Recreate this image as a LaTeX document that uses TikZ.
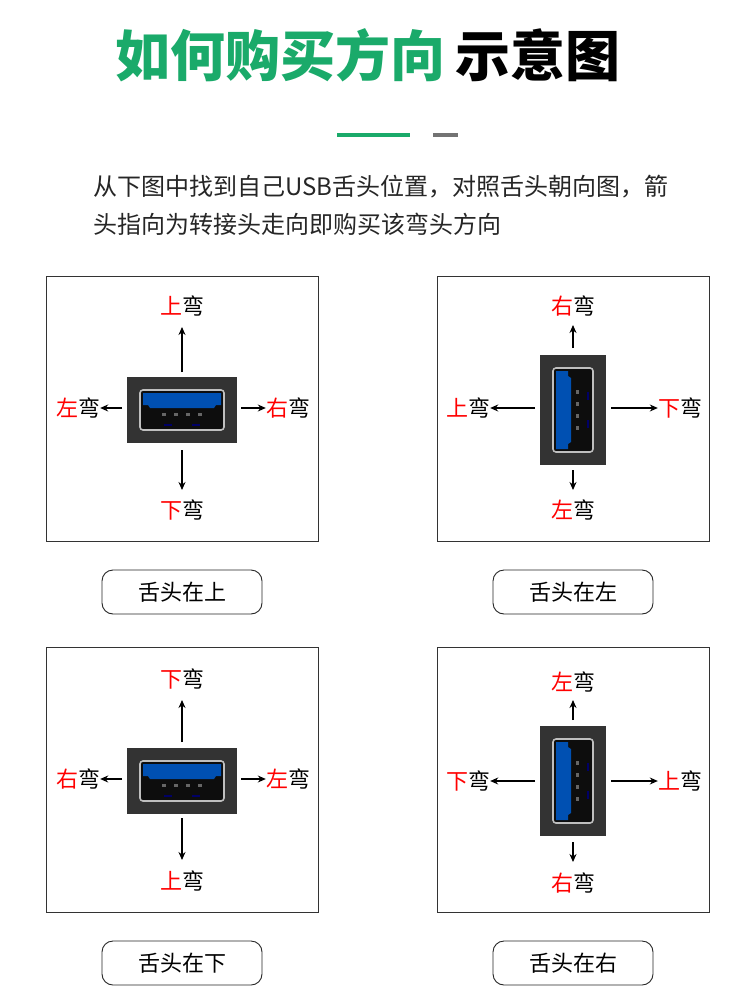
\documentclass[tikz,border=0pt]{standalone}
\usepackage{fontspec}
\setmainfont{Noto Sans CJK SC}
\usetikzlibrary{arrows.meta}
\begin{document}
\begin{tikzpicture}[x=1pt,y=-1pt,
  box/.style={draw=black!80,line width=0.8pt},
  btn/.style={draw=black!85,line width=0.9pt,rounded corners=11pt},
  lab/.style={font=\fontsize{22}{24}\selectfont,inner sep=0pt},
  arr/.style={-{Stealth[length=8pt,width=7pt]},line width=1.2pt},
  pics/usb/.style={code={
    \fill[black!80] (-55,-33) rectangle (55,33);
    \draw[fill=black!95,draw=black!25,line width=1.6pt,rounded corners=3pt] (-42,-20) rectangle (42,20);
    \fill[blue!55!cyan!70!black] (-39,-17) -- (39,-17) -- (39,-5) -- (34,-5) -- (32,-2) -- (-32,-2) -- (-34,-5) -- (-39,-5) -- cycle;
    \foreach \xx in {-18,-6,6,18} {\fill[black!60] (\xx-2,3) rectangle (\xx+2,6);}
    \foreach \xx in {-14,14} {\fill[blue!40!black] (\xx-4,14) rectangle (\xx+4,16);}
  }}]
\useasboundingbox (0,0) rectangle (750,1000);
\fill[white] (0,0) rectangle (750,1000);
\definecolor{gr}{HTML}{1AAA6A}
\node[inner sep=0pt,font=\fontsize{55}{60}\selectfont\bfseries] (title) at (368,55) {\textcolor{gr}{如何购买方向}\,\textcolor{black}{示意图}};
\fill[gr] (337,133) rectangle (410,137);
\fill[black!55] (433,133) rectangle (458,137);
\node[anchor=west,inner sep=0pt,font=\fontsize{24}{26}\selectfont,text=black!85] (t1) at (93,187) {从下图中找到自己USB舌头位置，对照舌头朝向图，箭};
\node[anchor=west,inner sep=0pt,font=\fontsize{24}{26}\selectfont,text=black!85] (t2) at (93,224) {头指向为转接头走向即购买该弯头方向};
% boxes
\draw[box] (46,276) rectangle (318,541);
\draw[box] (437,276) rectangle (709,541);
\draw[box] (46,647) rectangle (318,912);
\draw[box] (437,647) rectangle (709,912);
% buttons
\node[btn,minimum width=160pt,minimum height=44pt,font=\fontsize{22}{24}\selectfont] (b1) at (182,592) {舌头在上};
\node[btn,minimum width=160pt,minimum height=44pt,font=\fontsize{22}{24}\selectfont] (b2) at (573,592) {舌头在左};
\node[btn,minimum width=160pt,minimum height=44pt,font=\fontsize{22}{24}\selectfont] (b3) at (182,963) {舌头在下};
\node[btn,minimum width=160pt,minimum height=44pt,font=\fontsize{22}{24}\selectfont] (b4) at (573,963) {舌头在右};
% TL
\pic at (182,410) {usb};
\node[lab] (a1) at (182,306) {\textcolor{red}{上}弯};
\node[lab] (a2) at (182,510) {\textcolor{red}{下}弯};
\node[lab] (a3) at (78,408) {\textcolor{red}{左}弯};
\node[lab] (a4) at (288,408) {\textcolor{red}{右}弯};
\coordinate (p1) at (182,372); \coordinate (p2) at (182,450);
\coordinate (p3) at (122,408); \coordinate (p4) at (241,408);
\draw[arr] (p1) -- (a1.south |- 0,327);
\draw[arr] (p2) -- (a2.north |- 0,490);
\draw[arr] (p3) -- (a3.east);
\draw[arr] (p4) -- (a4.west);
% TR
\pic[rotate=90] at (573,410) {usb};
\node[lab] (c1) at (573,306) {\textcolor{red}{右}弯};
\node[lab] (c2) at (573,510) {\textcolor{red}{左}弯};
\node[lab] (c3) at (468,408) {\textcolor{red}{上}弯};
\node[lab] (c4) at (680,408) {\textcolor{red}{下}弯};
\coordinate (q1) at (573,348); \coordinate (q2) at (573,470);
\coordinate (q3) at (535,408); \coordinate (q4) at (611,408);
\draw[arr] (q1) -- (c1.south |- 0,325);
\draw[arr] (q2) -- (c2.north |- 0,490);
\draw[arr] (q3) -- (c3.east);
\draw[arr] (q4) -- (c4.west);
% BL
\pic at (182,781) {usb};
\node[lab] (d1) at (182,679) {\textcolor{red}{下}弯};
\node[lab] (d2) at (182,881) {\textcolor{red}{上}弯};
\node[lab] (d3) at (78,779) {\textcolor{red}{右}弯};
\node[lab] (d4) at (288,779) {\textcolor{red}{左}弯};
\coordinate (r1) at (182,742); \coordinate (r2) at (182,818);
\coordinate (r3) at (122,779); \coordinate (r4) at (241,779);
\draw[arr] (r1) -- (d1.south |- 0,700);
\draw[arr] (r2) -- (d2.north |- 0,860);
\draw[arr] (r3) -- (d3.east);
\draw[arr] (r4) -- (d4.west);
% BR
\pic[rotate=90] at (573,781) {usb};
\node[lab] (e1) at (573,682) {\textcolor{red}{左}弯};
\node[lab] (e2) at (573,883) {\textcolor{red}{右}弯};
\node[lab] (e3) at (468,781) {\textcolor{red}{下}弯};
\node[lab] (e4) at (680,781) {\textcolor{red}{上}弯};
\coordinate (s1) at (573,720); \coordinate (s2) at (573,842);
\coordinate (s3) at (535,781); \coordinate (s4) at (611,781);
\draw[arr] (s1) -- (e1.south |- 0,700);
\draw[arr] (s2) -- (e2.north |- 0,862);
\draw[arr] (s3) -- (e3.east);
\draw[arr] (s4) -- (e4.west);
\end{tikzpicture}
\end{document}
